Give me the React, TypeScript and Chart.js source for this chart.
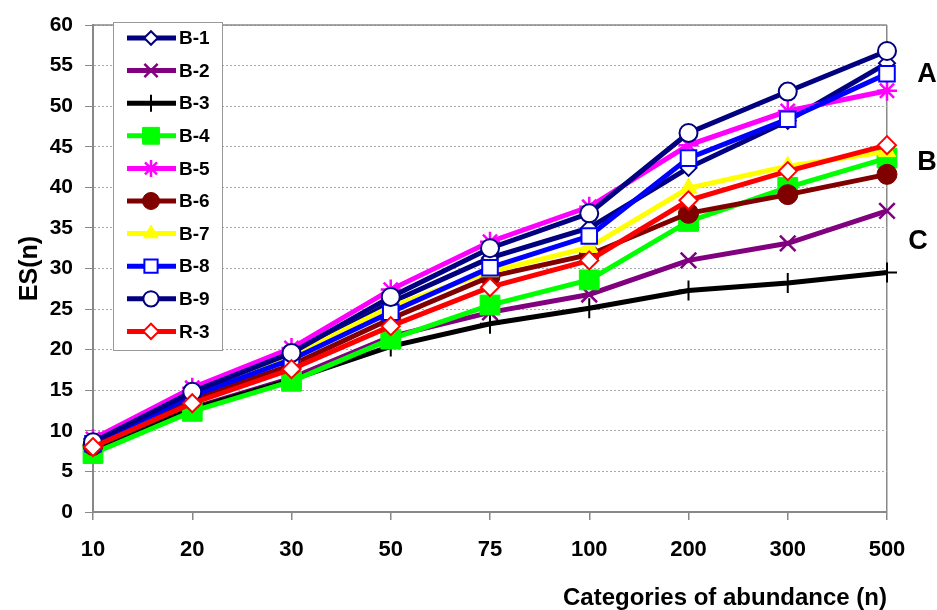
import React, { useEffect, useRef } from 'react';
import { Chart, registerables } from 'chart.js';
import { drawPoint } from 'chart.js/helpers';

Chart.register(...registerables);

const categories = ['10', '20', '30', '50', '75', '100', '200', '300', '500'];
const seriesNames = ['B-1', 'B-2', 'B-3', 'B-4', 'B-5', 'B-6', 'B-7', 'B-8', 'B-9', 'R-3'];

const b1 = [8.5, 14.5, 19.0, 25.8, 31.3, 35.0, 42.4, 48.2, 55.3];
const b2 = [7.6, 12.8, 16.5, 21.6, 24.6, 26.8, 31.0, 33.1, 37.1];
const b3 = [7.8, 12.7, 16.3, 20.4, 23.2, 25.1, 27.3, 28.2, 29.5];
const b4 = [7.2, 12.4, 16.1, 21.3, 25.5, 28.6, 35.8, 40.0, 43.6];
const b5 = [9.0, 15.3, 20.2, 27.4, 33.3, 37.6, 45.2, 49.4, 51.9];
const b6 = [8.2, 13.9, 18.1, 23.8, 29.0, 31.7, 36.8, 39.1, 41.6];
const b7 = [8.3, 14.4, 19.2, 25.3, 29.6, 32.6, 39.9, 42.6, 44.4];
const b8 = [8.4, 14.3, 18.8, 24.6, 30.1, 34.0, 43.6, 48.4, 54.0];
const b9 = [8.6, 14.8, 19.6, 26.5, 32.5, 36.8, 46.7, 51.8, 56.8];
const r3 = [8.0, 13.4, 17.6, 22.9, 27.7, 31.0, 38.4, 42.0, 45.2];

const seriesValues = [b1, b2, b3, b4, b5, b6, b7, b8, b9, r3];

const yTicks = [0, 5, 10, 15, 20, 25, 30, 35, 40, 45, 50, 55, 60];
const groupLabels = [
  { text: 'A', value: 54 },
  { text: 'B', value: 43.2 },
  { text: 'C', value: 33.4 },
];

type Style = {
  color: string;
  point: string;
  radius: number;
  fill: string;
  pw: number;
};

const styles: Style[] = [
  { color: '#000080', point: 'rectRot', radius: 8, fill: '#ffffff', pw: 2 },
  { color: '#800080', point: 'crossRot', radius: 11, fill: '#800080', pw: 2.5 },
  { color: '#000000', point: 'cross', radius: 10, fill: '#000000', pw: 2 },
  { color: '#00ff00', point: 'rect', radius: 14, fill: '#00ff00', pw: 1 },
  { color: '#ff00ff', point: 'star', radius: 10, fill: '#ff00ff', pw: 2.5 },
  { color: '#800000', point: 'circle', radius: 10, fill: '#800000', pw: 1 },
  { color: '#ffff00', point: 'triangle', radius: 10, fill: '#ffff00', pw: 1 },
  { color: '#0000ff', point: 'rect', radius: 11, fill: '#ffffff', pw: 2 },
  { color: '#000080', point: 'circle', radius: 9, fill: '#ffffff', pw: 2 },
  { color: '#ff0000', point: 'rectRot', radius: 9, fill: '#ffffff', pw: 2 },
];

const FONT = '"Liberation Sans", Arial, sans-serif';

const extrasPlugin = {
  id: 'extras',
  afterDraw(chart: any) {
    const { ctx, chartArea } = chart;
    const yScale = chart.scales.y;
    ctx.save();
    // top border
    ctx.strokeStyle = '#888888';
    ctx.lineWidth = 1.5;
    ctx.beginPath();
    ctx.moveTo(chartArea.left, chartArea.top);
    ctx.lineTo(chartArea.right, chartArea.top);
    ctx.stroke();

    // legend
    const lx = 113, ly = 22, lw = 109, lh = 328;
    ctx.fillStyle = '#ffffff';
    ctx.fillRect(lx, ly, lw, lh);
    ctx.strokeStyle = '#999999';
    ctx.lineWidth = 1;
    ctx.strokeRect(lx + 0.5, ly + 0.5, lw, lh);
    seriesNames.forEach((name, i) => {
      const s = styles[i];
      const cy = 38 + i * 32.6;
      ctx.strokeStyle = s.color;
      ctx.lineWidth = 5;
      ctx.beginPath();
      ctx.moveTo(127, cy);
      ctx.lineTo(176, cy);
      ctx.stroke();
      ctx.fillStyle = s.fill;
      ctx.strokeStyle = s.color;
      ctx.lineWidth = s.pw;
      drawPoint(ctx, { pointStyle: s.point, radius: s.radius * 0.85, rotation: 0, borderWidth: s.pw }, 151, cy);
      ctx.fillStyle = '#000000';
      ctx.font = `bold 19px ${FONT}`;
      ctx.textAlign = 'left';
      ctx.textBaseline = 'middle';
      ctx.fillText(name, 179, cy + 1);
    });

    // group labels
    ctx.fillStyle = '#000000';
    ctx.font = `bold 27px ${FONT}`;
    ctx.textAlign = 'center';
    ctx.textBaseline = 'middle';
    groupLabels.forEach((g, i) => {
      const x = chartArea.right + (i === 2 ? 31 : 40);
      ctx.fillText(g.text, x, yScale.getPixelForValue(g.value) + 1);
    });
    ctx.restore();
  },
};

export default function App() {
  const ref = useRef<HTMLCanvasElement>(null);
  useEffect(() => {
    document.body.style.margin = '0';
    const canvas = ref.current;
    if (!canvas) return;
    const datasets = seriesNames.map((name, i) => {
      const s = styles[i];
      return {
        label: name,
        data: seriesValues[i],
        borderColor: s.color,
        backgroundColor: s.fill,
        borderWidth: 5,
        pointStyle: s.point,
        pointRadius: s.radius,
        pointBorderColor: s.color,
        pointBackgroundColor: s.fill,
        pointBorderWidth: s.pw,
        tension: 0,
        order: seriesNames.length - i,
      };
    });
    const chart = new Chart(canvas, {
      type: 'line',
      data: { labels: categories, datasets },
      options: {
        responsive: false,
        animation: false,
        layout: { padding: { left: 0, right: 50, top: 25, bottom: 0 } },
        plugins: {
          legend: { display: false },
          tooltip: { enabled: false },
        },
        scales: {
          x: {
            offset: false,
            grid: {
              drawOnChartArea: true,
              color: (c: any) => (c.index === categories.length - 1 ? '#888888' : 'rgba(0,0,0,0)'),
              tickColor: '#888888',
              tickLength: 8,
              lineWidth: 1.5,
            },
            border: { color: '#888888', width: 2 },
            ticks: {
              color: '#000000',
              font: { family: FONT, size: 22, weight: 'bold' },
              padding: 17,
              maxRotation: 0,
            },
            title: {
              display: true,
              text: 'Categories of abundance (n)',
              align: 'end',
              color: '#000000',
              font: { family: FONT, size: 24, weight: 'bold' },
              padding: { top: 0, bottom: -3 },
            },
            afterFit: (scale: any) => {
              scale.height = 98;
            },
          },
          y: {
            min: 0,
            max: 60,
            afterBuildTicks: (scale: any) => {
              scale.ticks = yTicks.map((v) => ({ value: v }));
            },
            grid: {
              color: '#aaaaaa',
              tickColor: '#888888',
              tickLength: 8,
              lineWidth: 1,
            },
            border: { color: '#888888', width: 2, dash: [2, 2] },
            ticks: {
              color: '#000000',
              font: { family: FONT, size: 21, weight: 'bold' },
              padding: 12,
            },
            title: {
              display: true,
              text: 'ES(n)',
              color: '#000000',
              font: { family: FONT, size: 25, weight: 'bold' },
              padding: { top: 15, bottom: 0 },
            },
            afterFit: (scale: any) => {
              scale.width = 93;
            },
          },
        },
      },
      plugins: [extrasPlugin],
    } as any);
    return () => chart.destroy();
  }, []);
  return (
    <div style={{ width: 937, height: 610 }}>
      <canvas ref={ref} width={937} height={610} style={{ display: 'block' }} />
    </div>
  );
}
